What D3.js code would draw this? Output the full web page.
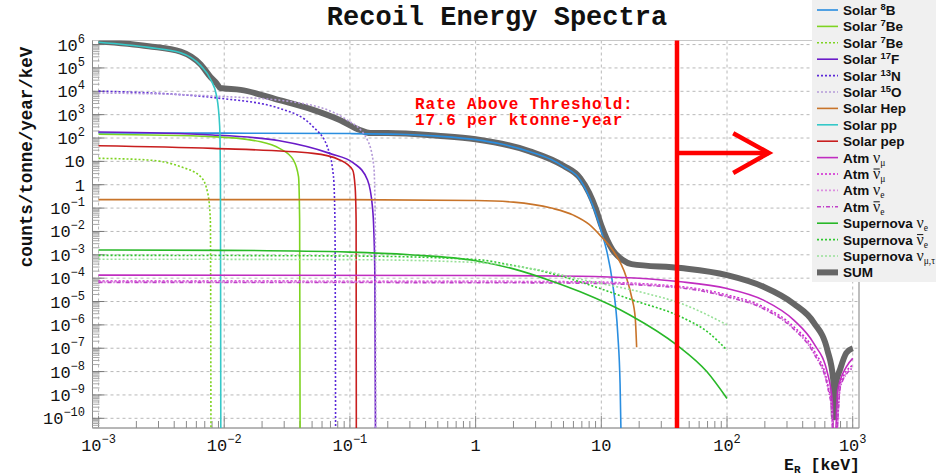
<!DOCTYPE html>
<html>
<head>
<meta charset="utf-8">
<script src="https://cdn.jsdelivr.net/npm/d3@7"></script>
<style>body{margin:0;background:#fff;}</style>
</head>
<body>
<script>
// spectra: [recoil energy keV, counts/tonne/year/keV]
const solar8B = [[1e-3,1.65e2],[0.01,1.62e2],[0.1,1.55e2],[0.25,1.45e2],[0.5,1.2e2],[1,85],[1.6,55],[2.7,26],[4,12],[5,6],[6.8,1.6],[8,0.3],[9,0.06],[10,1e-2],[11,1.6e-3],[12.3,6e-5],[13.5,4.5e-7],[14.1,3e-9],[14.5,1e-12]];
const solar7Be = [[1e-3,1.45e2],[8e-3,1.15e2],[0.0195,69],[0.0275,36],[0.0355,11.5],[0.039,2.2],[0.0398,3e-2],[0.0402,1e-12]];
const solar7BeLow = [[1e-3,13.5],[2.45e-3,11.5],[4.5e-3,5.9],[6.5e-3,2.2],[7.4e-3,0.43],[7.76e-3,3e-2],[7.85e-3,1e-12]];
const solar17F = [[1e-3,1.8e2],[8.1e-3,1.35e2],[0.0275,76],[0.069,22],[0.107,8.5],[0.138,1.6],[0.151,0.115],[0.155,1e-2],[0.158,1e-4],[0.16,1e-12]];
const solar13N = [[1e-3,1.02e4],[9.3e-3,5e3],[0.0275,1.86e3],[0.051,3e2],[0.066,43],[0.074,2.2],[0.076,3e-2],[0.077,1e-12]];
const solar15O = [[1e-3,8.5e3],[8.1e-3,6.3e3],[0.0355,3.5e3],[0.095,5.9e2],[0.138,81],[0.155,5.9],[0.159,3e-2],[0.161,1e-12]];
const solarHep = [[1e-3,0.23],[0.1,0.23],[1,0.21],[2,0.18],[4,0.1],[6,0.05],[8,0.02],[10,6e-3],[12.3,1.6e-3],[15.8,1.1e-4],[17.4,1.6e-5],[18.6,2.1e-6],[19.1,1.1e-7]];
const solarPP = [[1e-3,1.26e6],[2.5e-3,7.6e5],[4.5e-3,4.5e5],[6.5e-3,1.26e5],[7.8e-3,3.2e4],[8.7e-3,6.3e3],[9.2e-3,3.2e2],[9.33e-3,1],[9.4e-3,1e-12]];
const solarPep = [[1e-3,47],[8.1e-3,36],[0.051,22],[0.083,11.5],[0.105,4.3],[0.11,0.8],[0.112,3e-2],[0.1125,1e-12]];
const atmNuMu = [[1e-3,1.35e-4],[1,1.3e-4],[6.8,1.2e-4],[43,7e-5],[100,3.6e-5],[195,1.15e-5],[340,1.6e-6],[490,1.6e-7],[630,8.5e-9],[690,4.5e-10],[702,1e-12],[712,1e-12],[760,1.6e-9],[890,1.6e-8],[1000,3.7e-8]];
const atmNuMuBar = [[1e-3,7.5e-5],[1,7.3e-5],[6.8,7e-5],[43,4.3e-5],[100,1.9e-5],[195,5.9e-6],[340,8.3e-7],[490,8.3e-8],[630,3.2e-9],[685,2e-10],[700,1e-12],[712,1e-12],[800,3.2e-9],[1000,1.9e-8]];
const atmNuE = [[1e-3,7e-5],[1,6.8e-5],[6.8,6.5e-5],[43,4e-5],[100,1.7e-5],[195,5.2e-6],[340,7e-7],[490,6.5e-8],[630,2.5e-9],[685,1.6e-10],[700,1e-12],[712,1e-12],[800,2.6e-9],[1000,1.5e-8]];
const atmNuEBar = [[1e-3,6.6e-5],[1,6.4e-5],[6.8,6.1e-5],[43,3.8e-5],[100,1.6e-5],[195,4.9e-6],[340,6.5e-7],[490,6e-8],[630,2.3e-9],[685,1.5e-10],[700,1e-12],[712,1e-12],[800,2.4e-9],[1000,1.4e-8]];
const snNuE = [[1e-3,1.6e-3],[0.01,1.55e-3],[0.1,1.3e-3],[0.3,1e-3],[1,5.6e-4],[2,2.5e-4],[4,7.6e-5],[6.8,2.6e-5],[17,2.6e-6],[40,1.35e-7],[69,1e-8],[100,7e-10]];
const snNuEBar = [[1e-3,9.5e-4],[0.1,8.9e-4],[1,6.3e-4],[2,3.5e-4],[4,1.6e-4],[6.8,6.9e-5],[17.8,1.15e-5],[43,2.2e-6],[70,5e-7],[100,8.3e-8]];
const snNuX = [[1e-3,6.5e-4],[0.1,6.2e-4],[1,4.7e-4],[3,2.4e-4],[6.8,9e-5],[22.9,2.2e-5],[43,8.3e-6],[100,1e-6]];
const sumAll = [[1e-3,1.4e6],[2.5e-3,8.5e5],[4.5e-3,5e5],[6.5e-3,1.4e5],[7.8e-3,4e4],[8.7e-3,2.2e4],[9.3e-3,1.38e4],[0.0135,1.15e4],[0.0275,4.2e3],[0.051,1.6e3],[0.083,5.9e2],[0.12,2.2e2],[0.145,1.65e2],[0.2,1.65e2],[0.5,1.25e2],[1,88],[2.7,27],[5,6.5],[6.8,1.9],[8,0.45],[9,0.1],[10,1.8e-2],[12.3,1.6e-3],[14.8,6e-4],[17.4,4e-4],[43,2.7e-4],[100,1.35e-4],[195,4.3e-5],[340,8e-6],[490,1.26e-6],[630,8e-8],[700,4.5e-9],[708,1.1e-10],[735,3e-9],[794,1.26e-8],[890,6.3e-8],[1000,1e-7]];

const xTickLabels = [["10","−3"],["10","−2"],["10","−1"],["1",""],["10",""],["10","2"],["10","3"]];
const yTickLabels = [["10","6"],["10","5"],["10","4"],["10","3"],["10","2"],["10",""],["1",""],["10","−1"],["10","−2"],["10","−3"],["10","−4"],["10","−5"],["10","−6"],["10","−7"],["10","−8"],["10","−9"],["10","−10"]];
const xTickValues = [1e-3,1e-2,1e-1,1,10,100,1000];
const yTickValues = [1e6,1e5,1e4,1e3,1e2,10,1,1e-1,1e-2,1e-3,1e-4,1e-5,1e-6,1e-7,1e-8,1e-9,1e-10];

const legendLabels = [
  [["Solar "],["8","sup"],["B"]],
  [["Solar "],["7","sup"],["Be"]],
  [["Solar "],["7","sup"],["Be"]],
  [["Solar "],["17","sup"],["F"]],
  [["Solar "],["13","sup"],["N"]],
  [["Solar "],["15","sup"],["O"]],
  [["Solar Hep"]],
  [["Solar pp"]],
  [["Solar pep"]],
  [["Atm "],["ν","nu"],["μ","sub"]],
  [["Atm "],["ν","nubar"],["μ","sub"]],
  [["Atm "],["ν","nu"],["e","sub"]],
  [["Atm "],["ν","nubar"],["e","sub"]],
  [["Supernova "],["ν","nu"],["e","sub"]],
  [["Supernova "],["ν","nubar"],["e","sub"]],
  [["Supernova "],["ν","nu"],["μ,τ","sub"]],
  [["SUM"]]
];

const threshold = 40;          // keV
const rateText = ["Rate Above Threshold:", "17.6 per ktonne-year"];

// styles per series (same order as legend)
const series = [
  {d: solar8B,    c: "#2a8ee0", dash: null},
  {d: solar7Be,   c: "#7ed321", dash: null},
  {d: solar7BeLow,c: "#7ed321", dash: "2,2"},
  {d: solar17F,   c: "#6a1bc8", dash: null},
  {d: solar13N,   c: "#5a28d8", dash: "2,2"},
  {d: solar15O,   c: "#b49ad8", dash: "2,2"},
  {d: solarHep,   c: "#c8742a", dash: null},
  {d: solarPP,    c: "#35c8c8", dash: null},
  {d: solarPep,   c: "#c81e1e", dash: null},
  {d: atmNuMu,    c: "#c02cc0", dash: null},
  {d: atmNuMuBar, c: "#d020d0", dash: "2,2"},
  {d: atmNuE,     c: "#dc8ee0", dash: "2,2"},
  {d: atmNuEBar,  c: "#c040c8", dash: "4,2,1,2"},
  {d: snNuE,      c: "#28b828", dash: null},
  {d: snNuEBar,   c: "#30c830", dash: "2,2"},
  {d: snNuX,      c: "#98e098", dash: "2,2"},
  {d: sumAll,     c: "#666666", dash: null, w: 6}
];

const W = 936, H = 475;
const L = 92.5, R = 859, T = 40.5, B = 428;
const mono = "Liberation Mono, Courier New, monospace";

const svg = d3.select("body").append("svg").attr("width", W).attr("height", H);

const x = d3.scaleLog().domain([Math.pow(10,-3.048), Math.pow(10,3.05)]).range([L, R]);
const y = d3.scaleLog().domain([Math.pow(10,-10.415), Math.pow(10,6.175)]).range([B, T]);

svg.append("defs").append("clipPath").attr("id","plot")
  .append("rect").attr("x",L).attr("y",T).attr("width",R-L).attr("height",B-T);

// grid
const grid = svg.append("g").attr("stroke","#b8b8b8").attr("stroke-dasharray","3,3").attr("stroke-width",1);
xTickValues.forEach(v => grid.append("line").attr("x1",x(v)).attr("x2",x(v)).attr("y1",T).attr("y2",B));
yTickValues.forEach(v => grid.append("line").attr("y1",y(v)).attr("y2",y(v)).attr("x1",L).attr("x2",R));

// frame + ticks
svg.append("rect").attr("x",L).attr("y",T).attr("width",R-L).attr("height",B-T)
  .attr("fill","none").attr("stroke","#c8c8c8");
const ax = svg.append("g").attr("stroke","#8a8a8a").attr("stroke-width",1);
ax.append("line").attr("x1",L).attr("x2",L).attr("y1",T).attr("y2",B);
ax.append("line").attr("x1",L).attr("x2",R).attr("y1",B).attr("y2",B);
ax.append("line").attr("x1",R).attr("x2",R).attr("y1",T).attr("y2",B).attr("stroke","#999");
for (let e = -3; e <= 3; e++) {
  for (let k = 1; k <= 9; k++) {
    const v = k * Math.pow(10, e);
    if (v < x.domain()[0] || v > x.domain()[1]) continue;
    ax.append("line").attr("x1",x(v)).attr("x2",x(v)).attr("y1",B).attr("y2",B - (k===1 ? 12 : 7));
  }
}
for (let e = -11; e <= 6; e++) {
  for (let k = 1; k <= 9; k++) {
    const v = k * Math.pow(10, e);
    if (v < y.domain()[0] || v > y.domain()[1]) continue;
    ax.append("line").attr("y1",y(v)).attr("y2",y(v)).attr("x1",L).attr("x2",L + (k===1 ? 12 : 7))
      .attr("stroke", k===1 ? "#777" : "#a8a8a8");
  }
}

// tick labels
xTickValues.forEach((v,i) => {
  const [base, sup] = xTickLabels[i];
  const t = svg.append("text").attr("x", x(v)).attr("y", 451).attr("text-anchor","middle")
    .attr("font-family", mono).attr("font-size", 17).attr("fill","#111");
  t.append("tspan").text(base);
  if (sup) t.append("tspan").attr("font-size",12).attr("dy",-8).text(sup);
});
yTickValues.forEach((v,i) => {
  const [base, sup] = yTickLabels[i];
  const t = svg.append("text").attr("x", 85).attr("y", y(v) + 6).attr("text-anchor","end")
    .attr("font-family", mono).attr("font-size", 17).attr("fill","#111");
  t.append("tspan").text(base);
  if (sup) t.append("tspan").attr("font-size",12).attr("dy",-8).text(sup);
});

// axis titles
svg.append("text").attr("transform","translate(32,157) rotate(-90)").attr("text-anchor","middle")
  .attr("font-family", mono).attr("font-weight","bold").attr("font-size",17.5).attr("fill","#111")
  .text("counts/tonne/year/keV");
const xt = svg.append("text").attr("x",860).attr("y",470).attr("text-anchor","end")
  .attr("font-family", mono).attr("font-weight","bold").attr("font-size",16.5).attr("fill","#111");
xt.append("tspan").text("E");
xt.append("tspan").attr("font-size",11).attr("dy",3).text("R");
xt.append("tspan").attr("dy",-3).text(" [keV]");

svg.append("text").attr("x",497).attr("y",25).attr("text-anchor","middle")
  .attr("font-family", mono).attr("font-weight","bold").attr("font-size",27).attr("fill","#111")
  .text("Recoil Energy Spectra");

// curves
const line = d3.line().x(d => x(d[0])).y(d => y(d[1])).curve(d3.curveMonotoneX);
const curves = svg.append("g").attr("clip-path","url(#plot)");
const drawOrder = [series.length - 1].concat(d3.range(series.length - 1));
drawOrder.forEach(i => {
  const s = series[i];
  curves.append("path").datum(s.d).attr("d", line).attr("fill","none")
    .attr("stroke", s.c).attr("stroke-width", s.w || 1.6)
    .attr("stroke-dasharray", s.dash).attr("stroke-linejoin","round");
});

// threshold line and arrow
const red = svg.append("g").attr("stroke","#ff0000").attr("fill","none").attr("stroke-width",4.5);
red.append("line").attr("x1",x(threshold)).attr("x2",x(threshold)).attr("y1",T).attr("y2",B);
red.append("line").attr("x1",x(threshold)).attr("x2",x(215)).attr("y1",y(23)).attr("y2",y(23));
red.append("polyline").attr("points", [[x(112),y(160)],[x(215),y(23)],[x(112),y(3.2)]].map(p=>p.join(",")).join(" "));

rateText.forEach((s,i) => {
  svg.append("text").attr("x", x(0.33)).attr("y", 108.5 + i*16.5).attr("font-family", mono)
    .attr("font-weight","bold").attr("font-size",16).attr("letter-spacing",0.8)
    .attr("fill","#ff0000").text(s);
});

// legend
const lg = svg.append("g");
lg.append("rect").attr("x",812).attr("y",-1).attr("width",130).attr("height",283).attr("fill","#f0f0f0");
legendLabels.forEach((segs, i) => {
  const s = series[i];
  const yy = 10 + i * 16.4;
  lg.append("line").attr("x1",817).attr("x2",838).attr("y1",yy).attr("y2",yy)
    .attr("stroke", s.c).attr("stroke-width", s.w || 1.6).attr("stroke-dasharray", s.dash);
  const t = lg.append("text").attr("x",843).attr("y",yy+5)
    .attr("font-family","Liberation Sans, Arial, sans-serif").attr("font-weight","bold")
    .attr("font-size",13.5).attr("fill","#111");
  let shift = 0, idx = 0;
  const bars = [];
  segs.forEach(([str, kind]) => {
    const ts = t.append("tspan").text(str);
    let target = 0;
    if (kind === "sup") { ts.attr("font-size",9.5); target = -5; }
    if (kind === "sub") { ts.attr("font-size",9.5).attr("font-family","Liberation Serif, serif").attr("font-weight","normal"); target = 3; }
    if (kind === "nu" || kind === "nubar") {
      ts.attr("font-family","Liberation Serif, serif").attr("font-weight","normal").attr("font-size",16);
      if (kind === "nubar") bars.push(idx);
    }
    if (target !== shift) ts.attr("dy", target - shift);
    shift = target;
    idx += str.length;
  });
  bars.forEach(k => {
    const n = t.node();
    const a = n.getStartPositionOfChar(k), b = n.getEndPositionOfChar(k);
    lg.append("line").attr("x1",a.x+0.5).attr("x2",b.x-0.5).attr("y1",yy-5).attr("y2",yy-5)
      .attr("stroke","#111").attr("stroke-width",1);
  });
});
</script>
</body>
</html>
